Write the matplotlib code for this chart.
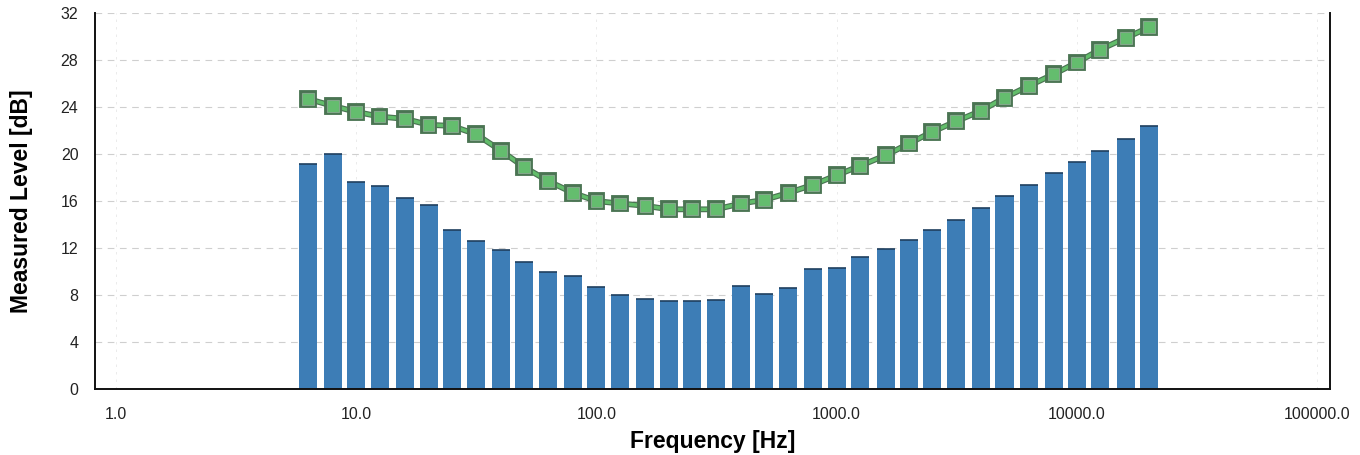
import numpy as np
import matplotlib.pyplot as plt
import matplotlib.patheffects as pe

plt.rcParams['font.family'] = ['Liberation Sans', 'DejaVu Sans']

# 1/3-octave band centre frequencies [Hz]
freqs = [6.3, 8, 10, 12.5, 16, 20, 25, 31.5, 40, 50, 63, 80, 100, 125, 160,
         200, 250, 315, 400, 500, 630, 800, 1000, 1250, 1600, 2000, 2500,
         3150, 4000, 5000, 6300, 8000, 10000, 12500, 16000, 20000]

# measured band levels [dB]
measured = [19.2, 20.0, 17.6, 17.3, 16.3, 15.7, 13.5, 12.6, 11.8, 10.8, 10.0,
            9.6, 8.7, 8.0, 7.7, 7.5, 7.5, 7.55, 8.8, 8.1, 8.6, 10.2, 10.3,
            11.2, 11.9, 12.7, 13.5, 14.4, 15.4, 16.4, 17.4, 18.4, 19.3, 20.3,
            21.3, 22.4]

# limit curve [dB]
limit = [24.7, 24.1, 23.6, 23.2, 23.0, 22.5, 22.4, 21.7, 20.3, 18.9, 17.7,
         16.7, 16.0, 15.8, 15.6, 15.3, 15.3, 15.3, 15.8, 16.1, 16.7, 17.4,
         18.2, 19.0, 19.9, 20.9, 21.9, 22.8, 23.7, 24.8, 25.8, 26.8, 27.8,
         28.9, 29.9, 30.8]

yticks = [0, 4, 8, 12, 16, 20, 24, 28, 32]
xticks = [1, 10, 100, 1000, 10000, 100000]

fig = plt.figure(figsize=(13.6, 4.55), dpi=100)
ax = fig.add_axes([0.0699, 0.145, 0.908, 0.826])

# bars are equally wide on the log axis
f = np.array(freqs)
half = 0.0375
left = f * 10 ** (-half)
width = f * 10 ** half - left
ax.bar(left, measured, width=width, align='edge', color='#3d7db6',
       edgecolor='none', zorder=2)
# dark rim on top of each bar
ax.hlines(measured, left, left + width, color='#1f3f5f', lw=1.2, zorder=3)

ax.plot(freqs, limit, color='#62bd6a', lw=2.5, marker='s', markersize=8.5,
        markerfacecolor='#64bd6e', markeredgecolor='#82a88a', markeredgewidth=0.8,
        zorder=4,
        path_effects=[pe.Stroke(linewidth=4.2, foreground='#4a7452'), pe.Normal()])

ax.set_xscale('log')
ax.set_xlim(10 ** -0.0875, 10 ** 5.054)
ax.set_ylim(0, 32)
ax.set_xticks(xticks)
ax.set_xticklabels([f'{v:.1f}' for v in xticks])
ax.minorticks_off()
ax.set_yticks(yticks)
ax.tick_params(axis='both', length=0, labelsize=11.5, colors='#222222')
ax.tick_params(axis='y', pad=12)
ax.tick_params(axis='x', pad=13)

ax.grid(axis='y', color='#cfcfcf', lw=0.8, ls=(0, (6, 5)), zorder=0)
ax.grid(axis='x', color='#e8e8e8', lw=0.6, ls=(0, (3, 6)), zorder=0)

ax.spines['top'].set_visible(False)
for side in ('left', 'bottom', 'right'):
    ax.spines[side].set_color('#111111')
    ax.spines[side].set_linewidth(1.4)

ax.set_xlabel('Frequency [Hz]', fontsize=16.5, fontweight='bold', labelpad=6)
ax.set_ylabel('Measured Level [dB]', fontsize=16.5, fontweight='bold')
ax.yaxis.set_label_coords(-0.05, 0.5)

fig.savefig('out.png', dpi=100, facecolor='white')
